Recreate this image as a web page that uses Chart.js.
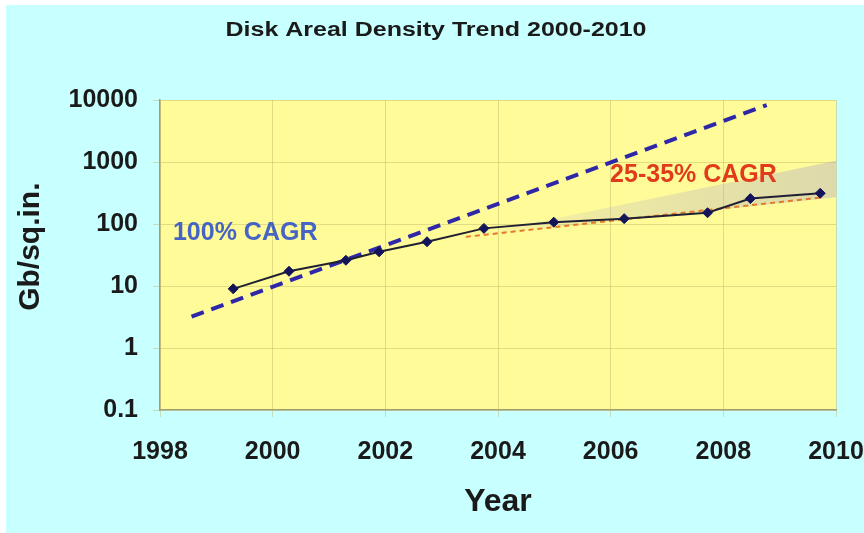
<!DOCTYPE html>
<html>
<head>
<meta charset="utf-8">
<title>Disk Areal Density Trend 2000-2010</title>
<script src="https://cdn.jsdelivr.net/npm/chart.js@4"></script>
<style>
  html, body { margin: 0; padding: 0; background: #ffffff; }
  canvas { display: block; }
</style>
</head>
<body>
<canvas id="chart" width="864" height="533"></canvas>
<script>
// Measured areal density (Gb/sq.in.) by year
const years = [1999.30, 2000.29, 2001.30, 2001.89, 2002.74, 2003.75, 2004.99, 2006.24, 2007.72, 2008.48, 2009.72];
const density = [9.0, 17.3, 26, 35.6, 51.7, 85, 107, 122, 152, 257, 313];

// 100% CAGR trend line (end points)
const trend100Years = [1998.56, 2008.77];
const trend100Values = [3.2, 8300];

// 25% CAGR trend line (end points)
const trend25Years = [2003.43, 2009.72];
const trend25Values = [62, 267];

// 25-35% CAGR band (upper and lower edges)
const bandYears = [2003.43, 2010];
const bandUpper = [62, 1050];
const bandLower = [62, 270];

// Axis ticks
const yTicks = [0.1, 1, 10, 100, 1000, 10000];
const xMin = 1998, xMax = 2010, xStep = 2;

// Text labels placed in data coordinates
const labelTexts = ['100% CAGR', '25-35% CAGR'];
const labelYears = [1998.23, 2005.99];
const labelValues = [71, 611];
const labelColors = ['#4664c3', '#e03c1c'];

const pts = (xs, ys) => xs.map((x, i) => ({ x: x, y: ys[i] }));
const FONT = "'Liberation Sans', Arial, Helvetica, sans-serif";

const backgroundPlugin = {
  id: 'backgrounds',
  beforeDraw(chart) {
    const { ctx, chartArea: a, width, height } = chart;
    ctx.save();
    ctx.fillStyle = '#ffffff';
    ctx.fillRect(0, 0, width, height);
    ctx.fillStyle = '#c8ffff';
    ctx.fillRect(6, 5, width - 6, height - 5);
    ctx.fillStyle = '#fffb99';
    ctx.fillRect(a.left, a.top, a.right - a.left, a.bottom - a.top);
    ctx.restore();
  }
};

const titlePlugin = {
  id: 'wideTitle',
  afterDraw(chart) {
    const ctx = chart.ctx;
    ctx.save();
    ctx.translate(436, 30);
    ctx.scale(1.25, 1);
    ctx.font = 'bold 20px ' + FONT;
    ctx.fillStyle = '#1a1a1a';
    ctx.textAlign = 'center';
    ctx.textBaseline = 'middle';
    ctx.fillText('Disk Areal Density Trend 2000-2010', 0, 0);
    ctx.restore();
  }
};

const labelPlugin = {
  id: 'cagrLabels',
  afterDatasetsDraw(chart) {
    const { ctx, scales } = chart;
    ctx.save();
    ctx.font = 'bold 25px ' + FONT;
    ctx.textAlign = 'left';
    ctx.textBaseline = 'middle';
    labelTexts.forEach((t, i) => {
      ctx.fillStyle = labelColors[i];
      ctx.fillText(t, scales.x.getPixelForValue(labelYears[i]), scales.y.getPixelForValue(labelValues[i]));
    });
    ctx.restore();
  }
};

const ctx = document.getElementById('chart').getContext('2d');

function bandGradient(context) {
  const chart = context.chart;
  const a = chart.chartArea;
  if (!a) return 'rgba(170,166,200,0.3)';
  const x0 = chart.scales.x.getPixelForValue(bandYears[0]);
  const x1 = chart.scales.x.getPixelForValue(bandYears[1]);
  const g = chart.ctx.createLinearGradient(x0, 0, x1, 0);
  g.addColorStop(0, 'rgba(170,166,200,0.02)');
  g.addColorStop(0.35, 'rgba(170,166,200,0.2)');
  g.addColorStop(1, 'rgba(170,166,200,0.4)');
  return g;
}

new Chart(ctx, {
  type: 'line',
  data: {
    datasets: [
      {
        label: 'Areal density',
        data: pts(years, density),
        borderColor: '#202034',
        borderWidth: 2,
        pointStyle: 'rectRot',
        pointRadius: 5,
        pointBackgroundColor: '#14145a',
        pointBorderColor: '#14145a',
        pointBorderWidth: 1,
        tension: 0,
        fill: false,
        order: 0
      },
      {
        label: '100% CAGR',
        data: pts(trend100Years, trend100Values),
        borderColor: '#2e28a8',
        borderWidth: 4,
        borderDash: [13, 8],
        pointRadius: 0,
        fill: false,
        order: 1
      },
      {
        label: '25% CAGR',
        data: pts(trend25Years, trend25Values),
        borderColor: '#e27a26',
        borderWidth: 2,
        borderDash: [5, 4],
        pointRadius: 0,
        fill: false,
        order: 2
      },
      {
        label: 'Band upper',
        data: pts(bandYears, bandUpper),
        borderWidth: 0,
        borderColor: 'rgba(0,0,0,0)',
        pointRadius: 0,
        backgroundColor: bandGradient,
        fill: '+1',
        order: 3
      },
      {
        label: 'Band lower',
        data: pts(bandYears, bandLower),
        borderWidth: 0,
        borderColor: 'rgba(0,0,0,0)',
        pointRadius: 0,
        fill: false,
        order: 4
      }
    ]
  },
  options: {
    responsive: false,
    devicePixelRatio: 1,
    animation: false,
    layout: { padding: { top: 100, right: 28, left: 0, bottom: 0 } },
    plugins: {
      legend: { display: false },
      title: { display: false },
      tooltip: { enabled: false }
    },
    scales: {
      x: {
        type: 'linear',
        min: xMin,
        max: xMax,
        grid: {
          color: 'rgba(190,180,100,0.45)',
          lineWidth: 1,
          tickLength: 7,
          drawTicks: true
        },
        border: { color: '#a39d72', width: 1.5 },
        ticks: {
          stepSize: xStep,
          padding: 20,
          color: '#1a1a1a',
          font: { family: FONT, size: 25, weight: 'bold' },
          callback: v => String(v)
        },
        title: {
          display: true,
          text: 'Year',
          color: '#1a1a1a',
          font: { family: FONT, size: 32, weight: 'bold' },
          padding: { top: 0, bottom: 12 }
        },
        afterFit(scale) {
          scale.height = 123;
          scale.paddingLeft = 0;
          scale.paddingRight = 28;
        }
      },
      y: {
        type: 'logarithmic',
        min: 0.1,
        max: 10000,
        grid: {
          color: 'rgba(190,180,100,0.45)',
          lineWidth: 1,
          tickLength: 7,
          drawTicks: true
        },
        border: { color: '#a39d72', width: 1.5 },
        afterBuildTicks(scale) {
          scale.ticks = yTicks.map(v => ({ value: v, major: true }));
        },
        ticks: {
          padding: 15,
          color: '#1a1a1a',
          font: { family: FONT, size: 25, weight: 'bold' },
          callback: v => String(v)
        },
        title: {
          display: true,
          text: '  Gb/sq.in.',
          color: '#1a1a1a',
          font: { family: FONT, size: 30, weight: 'bold' },
          padding: { top: 13, bottom: 0 }
        },
        afterFit(scale) {
          scale.width = 160;
          scale.paddingTop = 0;
          scale.paddingBottom = 0;
        }
      }
    }
  },
  plugins: [backgroundPlugin, titlePlugin, labelPlugin]
});
</script>
</body>
</html>
